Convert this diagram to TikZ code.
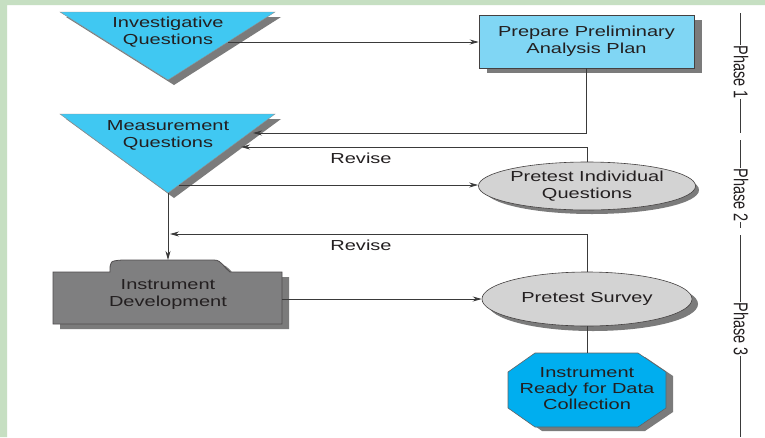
\documentclass[tikz,border=0pt]{standalone}
\usepackage{fontspec}
\setmainfont[FakeStretch=1.38]{Liberation Sans}
\newfontfamily\plainsans{Liberation Sans}
\usetikzlibrary{arrows.meta,shapes.geometric,calc}
\definecolor{framegreen}{HTML}{C6DFC2}
\definecolor{tri}{HTML}{40C8F2}
\definecolor{boxblue}{HTML}{80D6F4}
\definecolor{octblue}{HTML}{00AEEF}
\definecolor{ellgray}{HTML}{D3D3D3}
\definecolor{devgray}{HTML}{7F7F80}
\definecolor{shadowgray}{HTML}{7B7B7B}
\definecolor{ink}{HTML}{231F20}
\definecolor{wire}{HTML}{3A3A3A}
\begin{document}
\begin{tikzpicture}[x=1pt,y=-1pt,
  lbl/.style={font=\fontsize{14.5}{17}\selectfont, text=ink, align=center, inner sep=0pt},
  conn/.style={draw=wire, line width=0.8pt},
  arr/.style={conn, -{Stealth[length=9pt,width=5pt]}},
  shp/.style={draw=ink!85, line width=0.6pt},
  trishape/.style={fill=tri, draw=ink!50, line width=0.4pt},
  shadowfill/.style={fill=shadowgray},
  phase/.style={rotate=-90, inner sep=0pt, font=\plainsans\fontsize{14.5}{17}\selectfont, text=ink},
]
\useasboundingbox (0,0) rectangle (765,437);
\fill[white] (0,0) rectangle (765,437);
\fill[framegreen] (0,0) -- (765,0) -- (765,5) -- (7,5) -- (7,437) -- (0,437) -- cycle;

% ---- Investigative Questions triangle
\fill[shadowfill] (66,17) -- (281,17) -- (174,85) -- cycle;
\draw[trishape] (60,12) coordinate (t1a) -- (275,12) coordinate (t1b) -- (168,80) coordinate (t1c) -- cycle;
\node[lbl] (iq) at (168,32.5) {Investigative\\Questions};
\coordinate (iqout) at (228,42);

% ---- Prepare Preliminary Analysis Plan
\fill[shadowfill] (487,20) rectangle (702,73);
\node[shp, fill=boxblue, minimum width=215pt, minimum height=53pt, inner sep=0pt,
      lbl] (prep) at (586.5,41.5) {Prepare Preliminary\\Analysis Plan};

% ---- Measurement Questions triangle
\fill[shadowfill] (66,119) -- (281,119) -- (174,198) -- cycle;
\draw[trishape] (60,114) coordinate (t2a) -- (275,114) coordinate (t2b) -- (168,193) coordinate (t2c) -- cycle;
\node[lbl] (mq) at (168,135) {Measurement\\Questions};
\coordinate (mqin1) at (253,133);
\coordinate (mqin2) at (241,147);
\coordinate (mqout) at (179,185);

% ---- Pretest Individual Questions
\fill[shadowfill] (592,190) ellipse [x radius=107pt, y radius=24pt];
\node[ellipse, shp, fill=ellgray, minimum width=214pt, minimum height=48pt, inner sep=0pt,
      lbl] (pi) at (587,186) {Pretest Individual\\Questions};

% ---- Instrument Development
\fill[shadowfill] (60,277) -- (117,277) .. controls (117,266) .. (129,265) -- (221,265)
   .. controls (229,265) and (231,273) .. (237,277) -- (289,277) -- (289,329) -- (60,329) -- cycle;
\draw[fill=devgray, draw=ink!80, line width=0.8pt]
   (53,272) -- (110,272) .. controls (110,261) .. (122,260) -- (214,260)
   .. controls (222,260) and (224,268) .. (230,272) -- (282,272) -- (282,324) -- (53,324) -- cycle;
\coordinate (devtop) at (168,260);
\node[lbl] (dev) at (168,294.5) {Instrument\\Development};
\coordinate (devin) at (170,234);
\coordinate (devout) at (282,299);

% ---- Pretest Survey
\fill[shadowfill] (593,304) ellipse [x radius=105pt, y radius=27pt];
\node[ellipse, shp, fill=ellgray, minimum width=210pt, minimum height=54pt, inner sep=0pt,
      lbl] (ps) at (587,299) {Pretest Survey};

% ---- Octagon
\fill[shadowfill] (542,357) -- (645,357) -- (673,376) -- (673,412) -- (645,431) -- (542,431) -- (515,412) -- (515,376) -- cycle;
\draw[fill=octblue, draw=ink!70, line width=0.6pt]
   (535,353) -- (638,353) -- (666,372) -- (666,408) -- (638,427) -- (535,427) -- (508,408) -- (508,372) -- cycle;
\coordinate (octn) at (587,353);
\node[lbl, font=\fontsize{14.5}{16}\selectfont] (oct) at (587,389) {Instrument\\Ready for Data\\Collection};

% ---- Connectors
\draw[arr] (iqout) -- (iqout -| prep.west);
\draw[arr] (prep.south) |- (mqin1);
\draw[arr] (pi.north) |- (mqin2);
\node[lbl] (rev1) at (361,158) {Revise};
\draw[arr] (mqout) -- (mqout -| pi.west);
\draw[arr] (t2c) -- (devtop);
\draw[arr] (ps.north) |- (devin);
\node[lbl] (rev2) at (361,245) {Revise};
\draw[arr] (devout) -- (devout -| ps.west);
\draw[conn] (ps.south) -- (octn);

% ---- Phase labels
\node[phase] (ph1) at (741,72) {\scalebox{1}[1.38]{Phase 1}};
\node[phase] (ph2) at (741,195) {\scalebox{1}[1.38]{Phase 2}};
\node[phase] (ph3) at (741,329) {\scalebox{1}[1.38]{Phase 3}};
\coordinate (p1a) at (740,13);
\coordinate (p1b) at (740,133);
\coordinate (p2a) at (740,140);
\coordinate (p2b) at (740,228);
\coordinate (p3a) at (740,235);
\coordinate (p3b) at (740,437);
\draw[conn] (p1a) -- (p1a |- ph1.west);
\draw[conn] (p1b |- ph1.east) -- (p1b);
\draw[conn] (p2a) -- (p2a |- ph2.west);
\draw[conn] (p2b |- ph2.east) -- (p2b);
\draw[conn] (p3a) -- (p3a |- ph3.west);
\draw[conn] (p3b |- ph3.east) -- (p3b);
\end{tikzpicture}
\end{document}
